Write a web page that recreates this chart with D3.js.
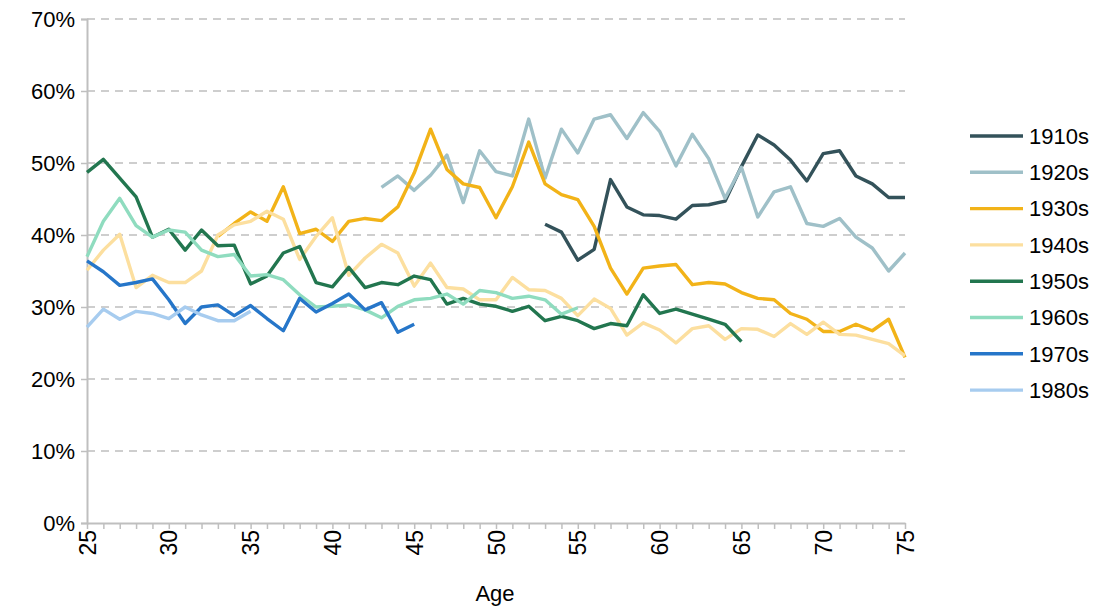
<!DOCTYPE html>
<html>
<head>
<meta charset="utf-8">
<script src="https://cdn.jsdelivr.net/npm/d3@7"></script>
<style>
  body { margin: 0; background: #fff; }
  svg { font-family: "Liberation Sans", Arial, sans-serif; }
</style>
</head>
<body>
<svg id="chart" width="1107" height="613"></svg>
<script>
// cohorts and their first age
var cohorts = ["1910s", "1920s", "1930s", "1940s", "1950s", "1960s", "1970s", "1980s"];
var colours = ["#33525a", "#9fc0c8", "#f2b318", "#fcdf9f", "#22764f", "#8fdcbf", "#2676c9", "#a7ccef"];
var startAge = [53, 43, 33, 25, 25, 25, 25, 25];

var v1910s = [41.5, 40.4, 36.5, 38.0, 47.7, 43.9, 42.8, 42.7, 42.2, 44.1, 44.2, 44.7, 49.5, 53.9,
              52.5, 50.4, 47.5, 51.3, 51.7, 48.2, 47.1, 45.2, 45.2];
var v1920s = [46.6, 48.2, 46.2, 48.3, 51.1, 44.5, 51.7, 48.8, 48.2, 56.1, 47.9, 54.7, 51.4, 56.1,
              56.7, 53.4, 57.0, 54.4, 49.6, 54.0, 50.6, 45.1, 49.4, 42.5, 46.0, 46.7, 41.6, 41.2,
              42.3, 39.7, 38.2, 35.0, 37.5];
var v1930s = [39.8, 41.6, 43.2, 41.9, 46.7, 40.2, 40.8, 39.1, 41.9, 42.3, 42.0, 43.9, 48.6, 54.7,
              49.1, 47.1, 46.6, 42.4, 46.7, 52.9, 47.1, 45.6, 44.9, 41.2, 35.4, 31.8, 35.4, 35.7,
              35.9, 33.1, 33.4, 33.2, 32.0, 31.2, 31.0, 29.1, 28.3, 26.6, 26.6, 27.6, 26.7, 28.3, 23.0];
var v1940s = [35.1, 37.9, 40.1, 32.7, 34.4, 33.4, 33.4, 35.0, 40.0, 41.4, 41.9, 43.3, 42.2, 36.6,
              39.8, 42.4, 34.4, 36.8, 38.7, 37.5, 32.9, 36.1, 32.7, 32.5, 31.0, 31.0, 34.1, 32.4,
              32.3, 31.2, 28.8, 31.1, 29.8, 26.1, 27.8, 26.8, 25.0, 27.0, 27.4, 25.5, 27.0, 26.9,
              25.9, 27.7, 26.2, 27.9, 26.2, 26.1, 25.5, 24.9, 23.2];
var v1950s = [48.7, 50.5, 47.9, 45.3, 39.7, 40.8, 37.9, 40.7, 38.5, 38.6, 33.2, 34.3, 37.5, 38.4,
              33.4, 32.8, 35.5, 32.7, 33.4, 33.1, 34.3, 33.8, 30.4, 31.2, 30.4, 30.1, 29.4, 30.1,
              28.1, 28.7, 28.1, 27.0, 27.7, 27.4, 31.7, 29.1, 29.7, 29.0, 28.3, 27.6, 25.2];
var v1960s = [37.0, 41.9, 45.1, 41.3, 39.7, 40.7, 40.4, 37.9, 37.0, 37.3, 34.3, 34.5, 33.8, 31.7,
              30.0, 30.1, 30.3, 29.6, 28.5, 30.1, 31.0, 31.2, 31.8, 30.4, 32.3, 32.0, 31.2, 31.5,
              31.0, 29.0, 29.9];
var v1970s = [36.4, 34.9, 33.0, 33.4, 33.9, 31.0, 27.7, 30.0, 30.3, 28.8, 30.2, 28.4, 26.7, 31.2,
              29.3, 30.5, 31.8, 29.6, 30.6, 26.5, 27.6];
var v1980s = [27.2, 29.7, 28.3, 29.4, 29.1, 28.4, 30.0, 28.9, 28.1, 28.1, 29.4];
var values = [v1910s, v1920s, v1930s, v1940s, v1950s, v1960s, v1970s, v1980s];

var yTicks = [0, 10, 20, 30, 40, 50, 60, 70];
var xTicks = [25, 30, 35, 40, 45, 50, 55, 60, 65, 70, 75];

var svg = d3.select("#chart");
var plotLeft = 87, plotRight = 905, plotTop = 19, plotBottom = 523;

var x = d3.scaleLinear().domain([25, 75]).range([plotLeft, plotRight]);
var y = d3.scaleLinear().domain([0, 70]).range([plotBottom, plotTop]);

// grid lines
svg.append("g")
  .selectAll("line")
  .data(yTicks.slice(1))
  .join("line")
    .attr("x1", plotLeft).attr("x2", plotRight)
    .attr("y1", function(d) { return y(d); })
    .attr("y2", function(d) { return y(d); })
    .attr("stroke", "#bfbfbf")
    .attr("stroke-width", 1.5)
    .attr("stroke-dasharray", "8,6");

// y axis
var yAxis = svg.append("g")
  .attr("transform", "translate(" + plotLeft + ",0)")
  .call(d3.axisLeft(y).tickValues(yTicks).tickSize(6).tickPadding(6)
        .tickFormat(function(d) { return d + "%"; }));
yAxis.select(".domain").attr("stroke", "#bfbfbf").attr("stroke-width", 2);
yAxis.selectAll(".tick line").attr("stroke", "#bfbfbf").attr("stroke-width", 1.5);
yAxis.selectAll(".tick text").attr("font-size", 22).attr("fill", "#000")
  .attr("font-family", "Liberation Sans, Arial, sans-serif");

// x axis with a small tick at every year
var xAxis = svg.append("g")
  .attr("transform", "translate(0," + plotBottom + ")")
  .call(d3.axisBottom(x).tickValues(d3.range(25, 76)).tickSize(6).tickSizeOuter(0)
        .tickFormat(function(d) { return xTicks.indexOf(d) >= 0 ? d : ""; }));
xAxis.select(".domain").attr("stroke", "#bfbfbf").attr("stroke-width", 2);
xAxis.selectAll(".tick line").attr("stroke", "#bfbfbf").attr("stroke-width", 1.5);
xAxis.selectAll(".tick text")
  .attr("font-size", 23).attr("fill", "#000")
  .attr("font-family", "Liberation Sans, Arial, sans-serif")
  .attr("transform", "rotate(-90)")
  .attr("text-anchor", "end")
  .attr("x", -7).attr("y", 0).attr("dy", "0.35em");

svg.append("text")
  .attr("x", (plotLeft + plotRight) / 2 - 1).attr("y", 601)
  .attr("text-anchor", "middle")
  .attr("font-size", 22)
  .text("Age");

// lines
var line = d3.line()
  .x(function(d) { return x(d.age); })
  .y(function(d) { return y(d.value); });

cohorts.forEach(function(c, i) {
  var pts = values[i].map(function(v, j) { return { age: startAge[i] + j, value: v }; });
  svg.append("path")
    .datum(pts)
    .attr("fill", "none")
    .attr("stroke", colours[i])
    .attr("stroke-width", 3.4)
    .attr("stroke-linejoin", "round")
    .attr("d", line);
});

// legend
var legend = svg.append("g").attr("transform", "translate(970,136)");
cohorts.forEach(function(c, i) {
  var g = legend.append("g").attr("transform", "translate(0," + (i * 36.3) + ")");
  g.append("line").attr("x1", 0).attr("x2", 53).attr("y1", 0).attr("y2", 0)
    .attr("stroke", colours[i]).attr("stroke-width", 3.4);
  g.append("text").attr("x", 59).attr("y", 0).attr("dy", "0.35em")
    .attr("font-size", 22).text(c);
});
</script>
</body>
</html>
